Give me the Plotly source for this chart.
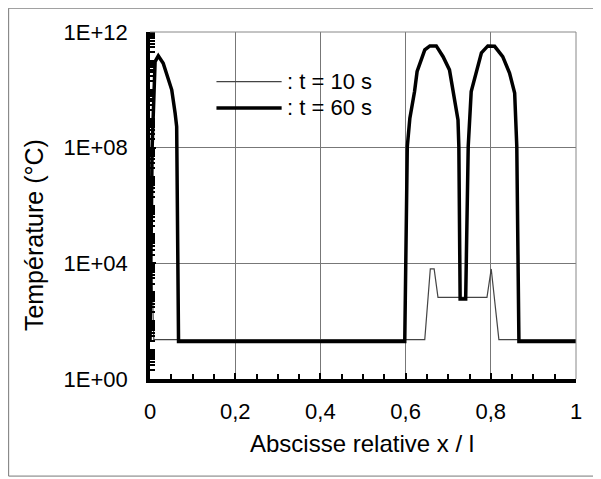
import plotly.graph_objects as go

# ---- data ----
x_t10 = [0.0, 0.004, 0.009, 0.645, 0.658, 0.667, 0.676, 0.791, 0.801, 0.819, 1.0]
y_t10 = [7000, 7000, 23, 23, 6400, 6400, 670, 670, 6400, 23, 23]

x_t60 = [0.0, 0.005, 0.012, 0.0195, 0.031, 0.051, 0.059, 0.0626, 0.067,
         0.598, 0.604, 0.610, 0.621, 0.627, 0.645, 0.657, 0.672, 0.688, 0.703,
         0.714, 0.723, 0.725, 0.728, 0.741, 0.747, 0.754, 0.766, 0.778, 0.793,
         0.809, 0.828, 0.844, 0.856, 0.860, 0.861, 0.866, 1.0]
y_t60 = [20, 1e8, 9.5e10, 1.5e11, 8.3e10, 1e10, 1.55e9, 5.4e8, 20,
         20, 1.1e8, 1.05e9, 8.7e9, 4.3e10, 2.4e11, 3.3e11, 3.3e11, 1.4e11, 4.9e10,
         5.9e9, 9.1e8, 1.1e8, 580, 580, 1.1e8, 8.7e9, 3.8e10, 1.9e11, 3.3e11,
         3.2e11, 1.4e11, 3.8e10, 7.8e9, 4.2e8, 1.1e8, 20, 20]

x_tickvals = [0, 0.2, 0.4, 0.6, 0.8, 1]
x_ticktext = ["0", "0,2", "0,4", "0,6", "0,8", "1"]
y_tickvals = [1, 1e4, 1e8, 1e12]
y_ticktext = ["1E+00", "1E+04", "1E+08", "1E+12"]
legend_labels = [": t = 10 s", ": t = 60 s"]

FONT = "Liberation Sans, Arial, Helvetica, sans-serif"

fig = go.Figure()
fig.add_trace(go.Scatter(x=x_t10, y=y_t10, mode="lines",
                         line=dict(color="#444444", width=1.2), showlegend=False))
fig.add_trace(go.Scatter(x=x_t60, y=y_t60, mode="lines",
                         line=dict(color="black", width=3.5), showlegend=False))

y_minor = [k * 10 ** d for d in range(0, 12) for k in range(1, 10)]

fig.update_layout(
    width=593, height=471,
    margin=dict(l=142, r=24.5, t=24.3, b=100),
    paper_bgcolor="white", plot_bgcolor="white",
    font=dict(family=FONT, size=22, color="black"),
    xaxis=dict(range=[0, 1], tickvals=x_tickvals, ticktext=x_ticktext,
               showgrid=True, gridcolor="#777777", gridwidth=1,
               showline=True, linecolor="black", linewidth=3.5,
               ticks="inside", ticklen=6, tickwidth=2, tickcolor="black",
               ticklabelstandoff=10, zeroline=False,
               minor=dict(dtick=0.05, ticks="inside", ticklen=5, tickwidth=2,
                          tickcolor="black", showgrid=False)),
    yaxis=dict(type="log", range=[0, 12], tickvals=y_tickvals, ticktext=y_ticktext,
               showgrid=True, gridcolor="#777777", gridwidth=1,
               showline=True, linecolor="black", linewidth=3.5,
               ticks="inside", ticklen=6, tickwidth=2, tickcolor="black",
               ticklabelstandoff=14, zeroline=False,
               minor=dict(tickvals=y_minor, ticks="inside", ticklen=5, tickwidth=2,
                          tickcolor="black", showgrid=False)),
)

# right and top frame of plot area (light lines)
fig.add_shape(type="line", xref="paper", yref="paper", x0=1, x1=1, y0=0, y1=1,
              line=dict(color="#888888", width=1))
fig.add_shape(type="line", xref="paper", yref="paper", x0=0, x1=1, y0=1, y1=1,
              line=dict(color="#888888", width=1))

# outer frame
fig.add_shape(type="rect", xref="paper", yref="paper", x0=-0.3318, x1=1.048,
              y0=-0.2798, y1=1.0686, line=dict(color="#777777", width=1))

# legend drawn manually
leg_y = [0.857, 0.781]
leg_w = [1.2, 3.5]
leg_c = ["#444444", "black"]
for lbl, yy, w, c in zip(legend_labels, leg_y, leg_w, leg_c):
    fig.add_shape(type="line", xref="paper", yref="paper", x0=0.156, x1=0.309,
                  y0=yy, y1=yy, line=dict(color=c, width=w))
    fig.add_annotation(xref="paper", yref="paper", x=0.316, y=yy, text=lbl,
                       showarrow=False, xanchor="left", yanchor="middle",
                       font=dict(family=FONT, size=22, color="black"))

# axis titles
fig.add_annotation(xref="paper", yref="paper", x=0.498, y=-0.185,
                   text="Abscisse relative x / l", showarrow=False,
                   xanchor="center", yanchor="middle",
                   font=dict(family=FONT, size=24, color="black"))
fig.add_annotation(xref="paper", yref="paper", x=-0.272, y=0.415,
                   text="Température (°C)", showarrow=False, textangle=-90,
                   xanchor="center", yanchor="middle",
                   font=dict(family=FONT, size=25, color="black"))

fig.write_html("out.html")
